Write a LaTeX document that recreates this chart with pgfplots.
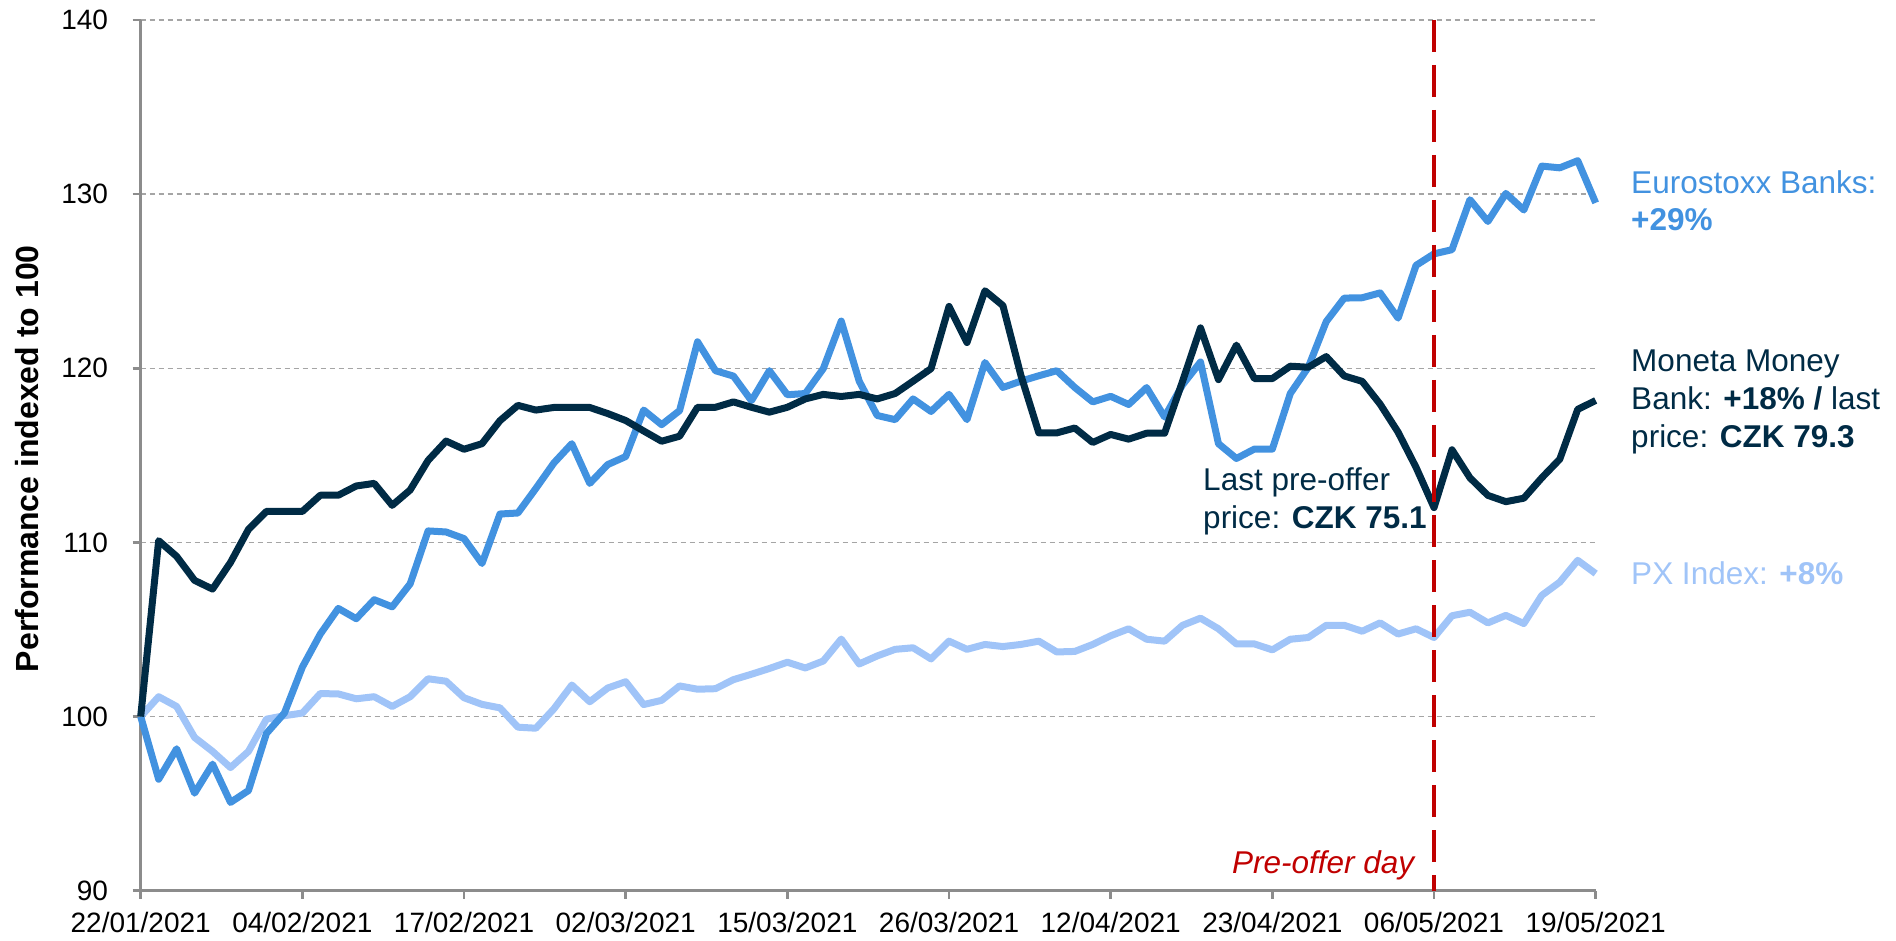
\documentclass[border=0pt]{standalone}
\usepackage{fontspec}
\setmainfont{Liberation Sans}
\usepackage{pgfplots}
\usepackage{pgfplotstable}
\pgfplotsset{compat=1.18}

\definecolor{moneta}{RGB}{0,43,69}
\definecolor{euro}{RGB}{66,146,224}
\definecolor{pxcol}{RGB}{160,196,248}
\definecolor{redline}{RGB}{192,0,0}
\definecolor{axisgray}{RGB}{140,140,140}
\definecolor{gridgray}{RGB}{165,165,165}

\newcommand{\annot}{\fontsize{31.5}{36}\selectfont}

% i = trading day since 22/01/2021 (Czech holidays left out)
\pgfplotstableread{
i  moneta  euro    px
0  100.00  100.00  100.00
1  110.10  96.40   101.14
2  109.20  98.15   100.58
3  107.82  95.60   98.80
4  107.32  97.27   98.00
5  108.85  95.07   97.07
6  110.75  95.75   98.00
7  111.78  99.03   99.85
8  111.78  100.20  100.05
9  111.78  102.84  100.20
10 112.71  104.74  101.32
11 112.71  106.21  101.30
12 113.24  105.62  101.02
13 113.39  106.71  101.14
14 112.13  106.30  100.58
15 113.01  107.62  101.14
16 114.71  110.66  102.17
17 115.82  110.60  102.03
18 115.35  110.22  101.08
19 115.67  108.79  100.70
20 116.99  111.63  100.50
21 117.87  111.69  99.39
22 117.60  113.10  99.33
23 117.75  114.56  100.44
24 117.75  115.67  101.81
25 117.75  113.39  100.85
26 117.40  114.47  101.64
27 117.00  114.93  102.00
28 116.40  117.60  100.69
29 115.81  116.76  100.93
30 116.10  117.57  101.76
31 117.76  121.52  101.57
32 117.76  119.86  101.60
33 118.07  119.55  102.12
34 117.76  118.14  102.43
35 117.48  119.86  102.76
36 117.76  118.48  103.12
37 118.24  118.55  102.79
38 118.50  119.98  103.19
39 118.38  122.71  104.45
40 118.50  119.26  103.02
41 118.24  117.29  103.48
42 118.55  117.05  103.86
43 119.26  118.24  103.95
44 119.98  117.52  103.31
45 123.55  118.50  104.33
46 121.48  117.05  103.86
47 124.45  120.33  104.14
48 123.60  118.90  104.02
49 119.60  119.26  104.14
50 116.29  119.57  104.33
51 116.29  119.86  103.71
52 116.57  118.90  103.74
53 115.74  118.07  104.14
54 116.20  118.39  104.64
55 115.93  117.92  105.04
56 116.27  118.89  104.44
57 116.27  117.20  104.33
58 119.25  119.05  105.24
59 122.32  120.36  105.65
60 119.35  115.67  105.04
61 121.33  114.82  104.17
62 119.41  115.36  104.17
63 119.41  115.36  103.83
64 120.12  118.55  104.44
65 120.06  120.06  104.54
66 120.67  122.68  105.24
67 119.56  124.03  105.24
68 119.25  124.05  104.90
69 117.94  124.33  105.38
70 116.33  122.88  104.74
71 114.31  125.91  105.04
72 112.00  126.57  104.54
73 115.32  126.81  105.79
74 113.71  129.68  105.99
75 112.70  128.43  105.38
76 112.34  130.04  105.81
77 112.54  129.09  105.34
78 113.71  131.61  106.96
79 114.78  131.51  107.72
80 117.64  131.92  108.97
81 118.15  129.50  108.21
}\data

\begin{document}
\begin{tikzpicture}
\begin{axis}[
    scale only axis,
    width=1455pt, height=870.7pt,
    at={(0pt,0pt)}, anchor=south west,
    xmin=0, xmax=81, ymin=90, ymax=140,
    axis x line*=bottom, axis y line*=left,
    axis line style={axisgray, line width=2.5pt, -},
    xtick={0,9,...,81},
    xticklabels={22/01/2021,04/02/2021,17/02/2021,02/03/2021,15/03/2021,26/03/2021,12/04/2021,23/04/2021,06/05/2021,19/05/2021},
    ytick={90,100,...,140},
    tick align=outside,
    major tick length=8pt,
    tick style={axisgray, line width=2.5pt},
    ymajorgrids,
    grid style={gridgray, line width=1.5pt, dash pattern=on 5pt off 4pt},
    tick label style={font=\fontsize{28}{32}\selectfont, inner sep=0pt},
    yticklabel style={anchor=east, xshift=-24.5pt},
    xticklabel style={anchor=base, yshift=-34pt},
    /pgf/number format/assume math mode=true,
    no markers,
    clip=false,
]
\addplot[pxcol, line width=7pt, line join=round] table[x=i, y=px] {\data};
\addplot[euro, line width=7pt, line join=round] table[x=i, y=euro] {\data};
\addplot[moneta, line width=7pt, line join=round] table[x=i, y=moneta] {\data};
\draw[redline, line width=4pt, dash pattern=on 32pt off 13pt] (axis cs:72,140) -- (axis cs:72,90);
\end{axis}

\node[rotate=90, anchor=center, font=\bfseries\fontsize{32}{36}\selectfont] at (-114pt,432pt) {Performance indexed to 100};

\node[anchor=base west, text=euro, font=\annot] at (1487pt,697.4pt) {Eurostoxx Banks:};
\node[anchor=base west, text=euro, font=\annot] at (1487pt,660pt) {\textbf{+29\%}};

\node[anchor=base west, text=moneta, font=\annot] at (1487pt,519pt) {Moneta Money};
\node[anchor=base west, text=moneta, font=\annot] at (1487pt,481.4pt) {Bank: \textbf{+18\% /} last};
\node[anchor=base west, text=moneta, font=\annot] at (1487pt,443.4pt) {price: \textbf{CZK 79.3}};

\node[anchor=base west, text=pxcol, font=\annot] at (1487pt,305.7pt) {PX Index: \textbf{+8\%}};

\node[anchor=base west, text=moneta, font=\annot] at (1059pt,400.2pt) {Last pre-offer};
\node[anchor=base west, text=moneta, font=\annot] at (1059pt,362pt) {price: \textbf{CZK 75.1}};

\node[anchor=base east, text=redline, font=\itshape\annot] at (1277pt,17.4pt) {Pre-offer day};

\pgfresetboundingbox
\path[use as bounding box] (-140.7pt,-49.3pt) rectangle (1755.3pt,890.7pt);
\end{tikzpicture}
\end{document}
